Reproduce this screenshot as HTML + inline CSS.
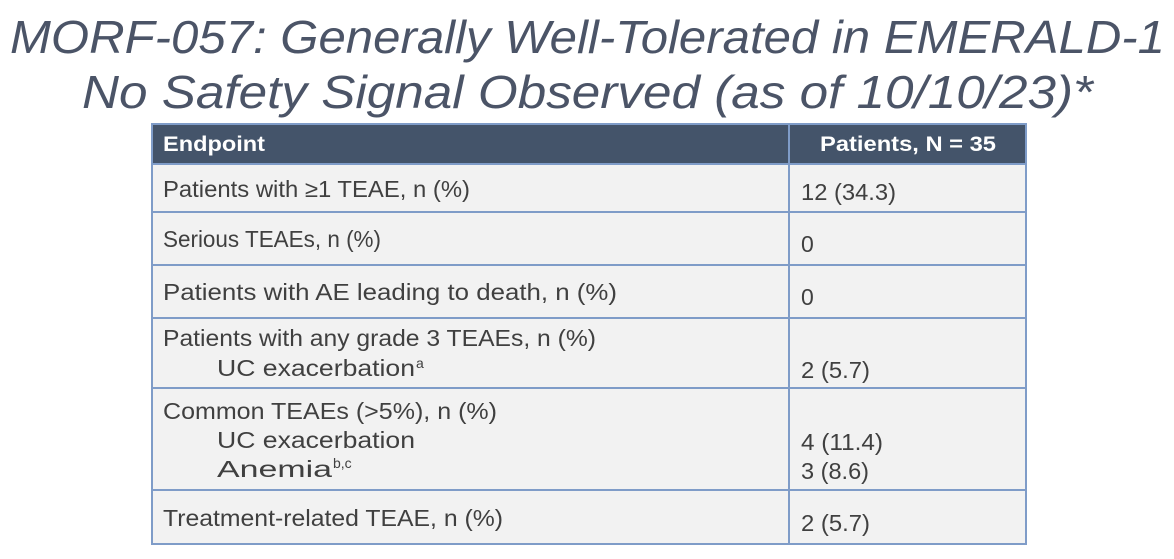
<!DOCTYPE html>
<html><head><meta charset="utf-8"><style>
html,body{margin:0;padding:0;background:#fff;width:1174px;height:559px;overflow:hidden}
svg{display:block;font-family:"Liberation Sans",sans-serif}
.t{fill:#404040;font-size:23px}
.s{fill:#404040;font-size:14px}
.h{fill:#fff;font-size:21px;font-weight:bold}
.ti{fill:#4b5467;font-size:46px;font-style:italic}
</style></head><body>
<svg width="1174" height="559">
<text class="ti" x="10" y="53" textLength="1155" lengthAdjust="spacingAndGlyphs">MORF-057: Generally Well-Tolerated in EMERALD-1</text>
<text class="ti" x="82" y="108" textLength="1011" lengthAdjust="spacingAndGlyphs">No Safety Signal Observed (as of 10/10/23)*</text>
<g>
<rect x="152" y="124" width="874" height="40" fill="#44546a"/>
<rect x="152" y="164" width="874" height="380" fill="#f2f2f2"/>
<g stroke="#7f9cc8" stroke-width="2" fill="none">
<rect x="152" y="124" width="874" height="420"/>
<line x1="789" y1="124" x2="789" y2="544"/>
<line x1="152" y1="164" x2="1026" y2="164"/>
<line x1="152" y1="212" x2="1026" y2="212"/>
<line x1="152" y1="265" x2="1026" y2="265"/>
<line x1="152" y1="318" x2="1026" y2="318"/>
<line x1="152" y1="388" x2="1026" y2="388"/>
<line x1="152" y1="490" x2="1026" y2="490"/>
</g>
<text class="h" x="163" y="151" textLength="102" lengthAdjust="spacingAndGlyphs">Endpoint</text>
<text class="h" x="820" y="151" textLength="176" lengthAdjust="spacingAndGlyphs">Patients, N = 35</text>
<text class="t" x="163" y="197" textLength="307" lengthAdjust="spacingAndGlyphs">Patients with ≥1 TEAE, n (%)</text>
<text class="t" x="801" y="200" textLength="95" lengthAdjust="spacingAndGlyphs">12 (34.3)</text>
<text class="t" x="163" y="247" textLength="218" lengthAdjust="spacingAndGlyphs">Serious TEAEs, n (%)</text>
<text class="t" x="801" y="252">0</text>
<text class="t" x="163" y="300" textLength="454" lengthAdjust="spacingAndGlyphs">Patients with AE leading to death, n (%)</text>
<text class="t" x="801" y="305">0</text>
<text class="t" x="163" y="346" textLength="433" lengthAdjust="spacingAndGlyphs">Patients with any grade 3 TEAEs, n (%)</text>
<text class="t" x="217" y="376" textLength="198" lengthAdjust="spacingAndGlyphs">UC exacerbation</text>
<text class="s" x="416" y="368">a</text>
<text class="t" x="801" y="378" textLength="69" lengthAdjust="spacingAndGlyphs">2 (5.7)</text>
<text class="t" x="163" y="419" textLength="334" lengthAdjust="spacingAndGlyphs">Common TEAEs (&gt;5%), n (%)</text>
<text class="t" x="217" y="448" textLength="198" lengthAdjust="spacingAndGlyphs">UC exacerbation</text>
<text class="t" x="217" y="477" textLength="115" lengthAdjust="spacingAndGlyphs">Anemia</text>
<text class="s" x="333" y="468">b,c</text>
<text class="t" x="801" y="450" textLength="82" lengthAdjust="spacingAndGlyphs">4 (11.4)</text>
<text class="t" x="801" y="479" textLength="68" lengthAdjust="spacingAndGlyphs">3 (8.6)</text>
<text class="t" x="163" y="526" textLength="340" lengthAdjust="spacingAndGlyphs">Treatment-related TEAE, n (%)</text>
<text class="t" x="801" y="531" textLength="69" lengthAdjust="spacingAndGlyphs">2 (5.7)</text>
</g>
</svg>
</body></html>
